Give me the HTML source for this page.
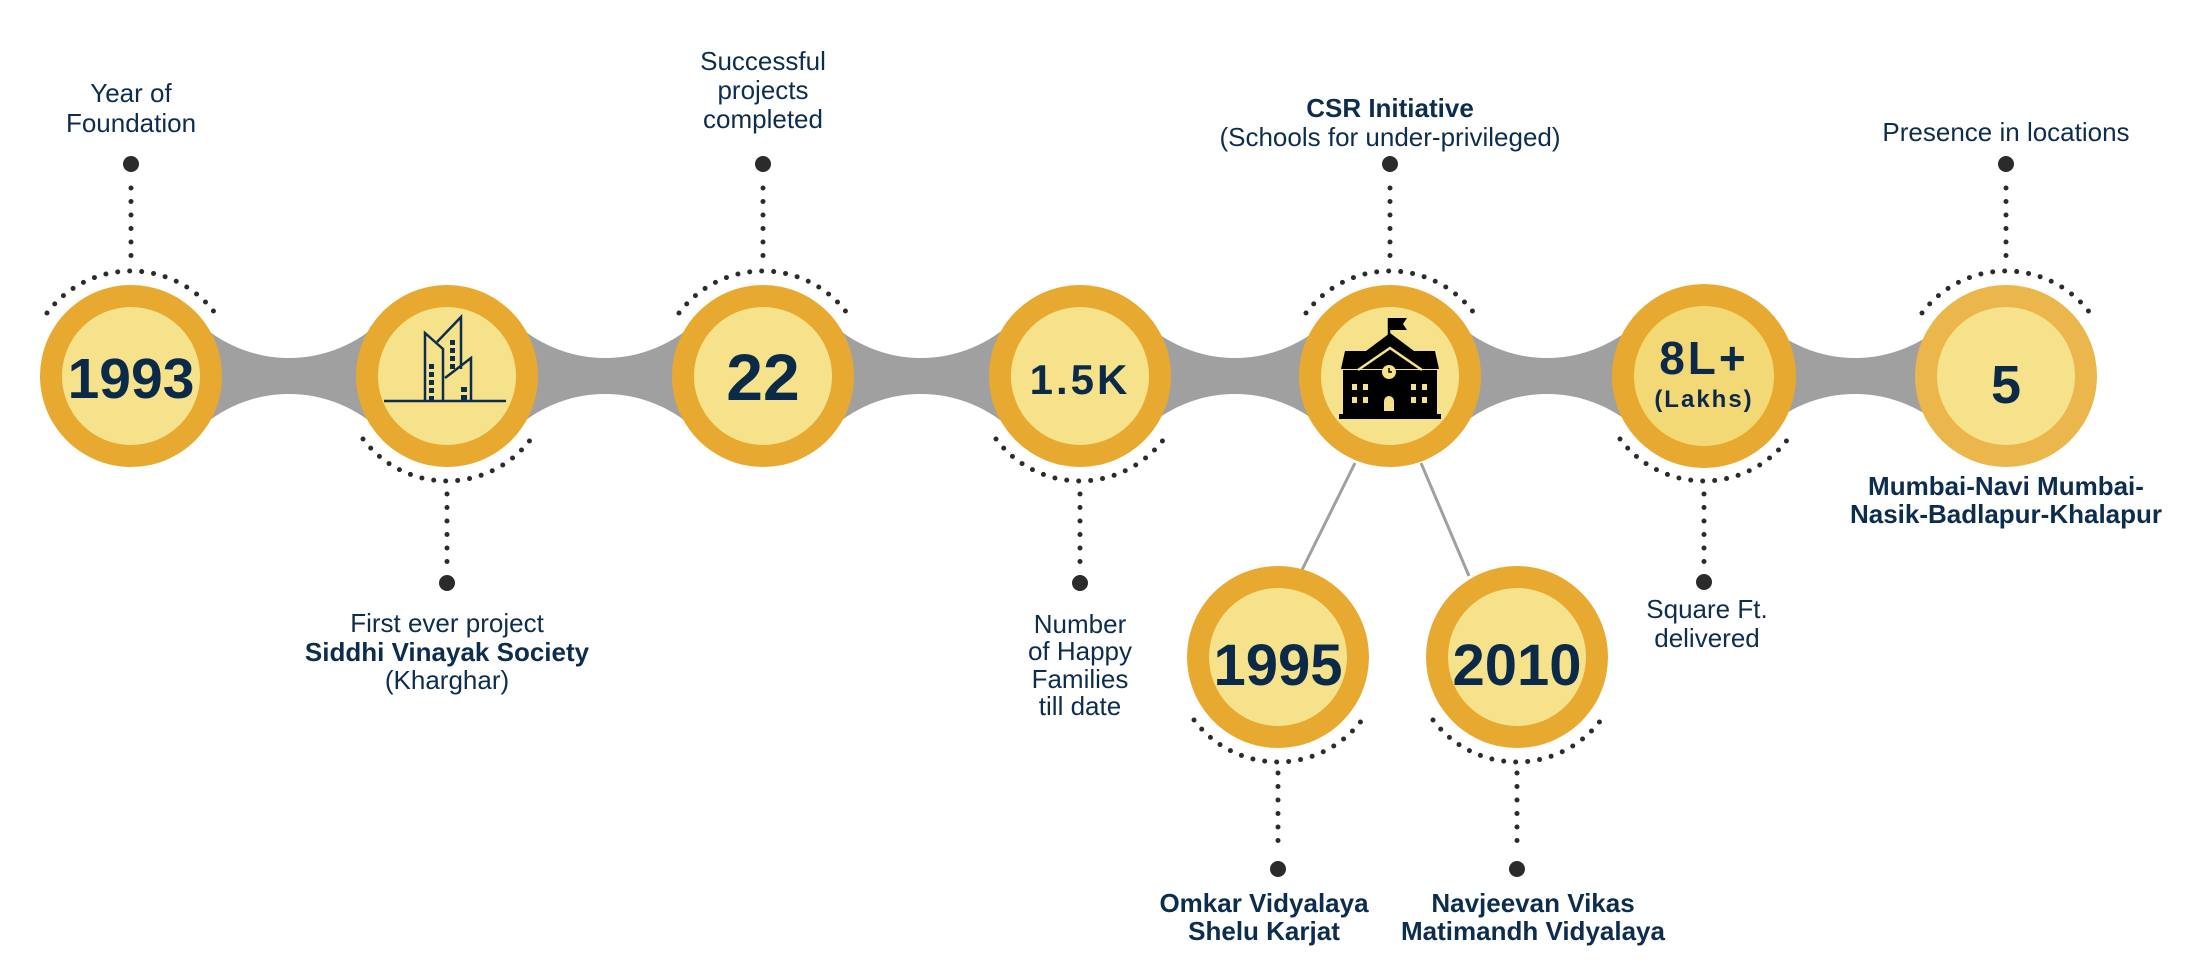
<!DOCTYPE html>
<html><head><meta charset="utf-8"><style>
html,body{margin:0;padding:0;background:#fff;}
svg{display:block;}
text{font-family:"Liberation Sans",sans-serif;fill:#0d2d4f;}
.l{font-size:26px;}
.b{font-size:26px;font-weight:bold;}
.n{font-weight:bold;fill:#0b2a4a;}
</style></head><body>
<svg width="2210" height="972" viewBox="0 0 2210 972" xmlns="http://www.w3.org/2000/svg">
<rect x="131" y="316" width="1875" height="120" fill="#a0a0a0"/>
<g fill="#fff">
<circle cx="289" cy="225" r="133"/><circle cx="289" cy="527" r="133"/>
<circle cx="605" cy="225" r="133"/><circle cx="605" cy="527" r="133"/>
<circle cx="921" cy="225" r="133"/><circle cx="921" cy="527" r="133"/>
<circle cx="1235" cy="225" r="133"/><circle cx="1235" cy="527" r="133"/>
<circle cx="1547" cy="225" r="133"/><circle cx="1547" cy="527" r="133"/>
<circle cx="1855" cy="225" r="133"/><circle cx="1855" cy="527" r="133"/>
</g>
<line x1="1355" y1="463" x2="1301" y2="572" stroke="#a0a0a0" stroke-width="3"/>
<line x1="1421" y1="463" x2="1469" y2="576" stroke="#a0a0a0" stroke-width="3"/>

<g fill="none" stroke="#2b2b2b" stroke-width="5" stroke-linecap="round" stroke-dasharray="0 12">
<path d="M47,313 A105,105 0 0 1 215,313"/>
<path d="M679,313 A105,105 0 0 1 847,313"/>
<path d="M1306,313 A105,105 0 0 1 1474,313"/>
<path d="M1922,313 A105,105 0 0 1 2090,313"/>
<path d="M363,439 A105,105 0 0 0 531,439"/>
<path d="M996,439 A105,105 0 0 0 1164,439"/>
<path d="M1620,439 A105,105 0 0 0 1788,439"/>
<path d="M1194,720 A105,105 0 0 0 1362,720"/>
<path d="M1433,720 A105,105 0 0 0 1601,720"/>
</g>
<g fill="none" stroke="#2b2b2b" stroke-width="5" stroke-linecap="round" stroke-dasharray="0 13.5">
<line x1="131" y1="188" x2="131" y2="258"/>
<line x1="763" y1="188" x2="763" y2="258"/>
<line x1="1390" y1="188" x2="1390" y2="258"/>
<line x1="2006" y1="188" x2="2006" y2="258"/>
<line x1="447" y1="494" x2="447" y2="562"/>
<line x1="1080" y1="494" x2="1080" y2="562"/>
<line x1="1704" y1="494" x2="1704" y2="562"/>
<line x1="1278" y1="773" x2="1278" y2="846"/>
<line x1="1517" y1="773" x2="1517" y2="846"/>
</g>
<g fill="#2b2b2b">
<circle cx="131" cy="164" r="8"/><circle cx="763" cy="164" r="8"/>
<circle cx="1390" cy="164" r="8"/><circle cx="2006" cy="164" r="8"/>
<circle cx="447" cy="583" r="8"/><circle cx="1080" cy="583" r="8"/>
<circle cx="1704" cy="582" r="8"/>
<circle cx="1278" cy="869" r="8"/><circle cx="1517" cy="869" r="8"/>
</g>

<g>
<circle cx="131" cy="376" r="91" fill="#e8a930"/><circle cx="131" cy="376" r="69" fill="#f6e28a"/>
<circle cx="447" cy="376" r="91" fill="#e8a930"/><circle cx="447" cy="376" r="69" fill="#f6e28a"/>
<circle cx="763" cy="376" r="91" fill="#e8a930"/><circle cx="763" cy="376" r="69" fill="#f6e28a"/>
<circle cx="1080" cy="376" r="91" fill="#e8a930"/><circle cx="1080" cy="376" r="69" fill="#f6e28a"/>
<circle cx="1390" cy="376" r="91" fill="#e8a930"/><circle cx="1390" cy="376" r="69" fill="#f6e28a"/>
<circle cx="1704" cy="376" r="92" fill="#e8a930"/><circle cx="1704" cy="376" r="70" fill="#f3d876"/>
<circle cx="2006" cy="376" r="91" fill="#ebb74c"/><circle cx="2006" cy="376" r="69" fill="#f6e28a"/>
<circle cx="1278" cy="657" r="91" fill="#e8a930"/><circle cx="1278" cy="657" r="69" fill="#f6e28a"/>
<circle cx="1517" cy="657" r="91" fill="#e8a930"/><circle cx="1517" cy="657" r="69" fill="#f6e28a"/>
</g>

<g fill="none" stroke="#0d2d4f" stroke-width="2.5">
<line x1="384" y1="401" x2="506" y2="401"/>
<path d="M425,401 V333 L443,349 V401"/>
<path d="M437,342 L461,317 V369"/>
<path d="M445,378 L471,358 V401"/>
</g>
<g fill="#0d2d4f">
<rect x="429" y="364" width="5" height="5"/><rect x="429" y="372" width="5" height="5"/><rect x="429" y="380" width="5" height="5"/><rect x="429" y="388" width="5" height="5"/><rect x="429" y="396" width="5" height="5"/>
<rect x="450" y="340" width="5" height="5"/><rect x="450" y="348" width="5" height="5"/><rect x="450" y="356" width="5" height="5"/><rect x="450" y="364" width="5" height="5"/>
<rect x="461" y="387" width="6" height="5"/><rect x="461" y="395" width="6" height="5"/>
</g>

<g fill="#000">
<line x1="1389" y1="339" x2="1389" y2="318" stroke="#000" stroke-width="2.5"/>
<path d="M1390,318 h17 l-4,6 l4,6 h-17 z"/>
<path d="M1345,351 L1366,351 L1390,333 L1414,351 L1435,351 L1439,369 L1341,369 Z"/>
<rect x="1343" y="370" width="94" height="46"/>
<rect x="1339" y="414" width="102" height="5"/>
</g>
<path d="M1358,370 L1390,348 L1422,370" fill="none" stroke="#f6e28a" stroke-width="2.5"/>
<g fill="#f6e28a">
<circle cx="1389" cy="372" r="7"/>
<rect x="1352" y="384" width="5" height="6"/><rect x="1363" y="384" width="5" height="6"/>
<rect x="1411" y="384" width="5" height="6"/><rect x="1422" y="384" width="5" height="6"/>
<rect x="1352" y="397" width="5" height="6"/><rect x="1363" y="397" width="5" height="6"/>
<rect x="1411" y="397" width="5" height="6"/><rect x="1422" y="397" width="5" height="6"/>
<path d="M1384,411 v-10 a5,5 0 0 1 10,0 v10 z"/>
</g>
<path d="M1389,368 v4 h3" stroke="#000" stroke-width="1.5" fill="none"/>

<text class="n" x="131" y="398" font-size="57" text-anchor="middle">1993</text>
<text class="n" x="763" y="400" font-size="66" text-anchor="middle">22</text>
<text class="n" x="1080" y="394" font-size="42" text-anchor="middle" letter-spacing="3">1.5K</text>
<text class="n" x="1704" y="374" font-size="46" text-anchor="middle" letter-spacing="3">8L+</text>
<text class="n" x="1704" y="407" font-size="24" text-anchor="middle" letter-spacing="2">(Lakhs)</text>
<text class="n" x="2006" y="403" font-size="54" text-anchor="middle">5</text>
<text class="n" x="1278" y="685" font-size="58" text-anchor="middle">1995</text>
<text class="n" x="1517" y="685" font-size="58" text-anchor="middle">2010</text>

<g text-anchor="middle">
<text class="l" x="131" y="102">Year of</text>
<text class="l" x="131" y="132">Foundation</text>
<text class="l" x="763" y="70">Successful</text>
<text class="l" x="763" y="99">projects</text>
<text class="l" x="763" y="128">completed</text>
<text class="b" x="1390" y="117">CSR Initiative</text>
<text class="l" x="1390" y="146">(Schools for under-privileged)</text>
<text class="l" x="2006" y="141">Presence in locations</text>
<text class="l" x="447" y="632">First ever project</text>
<text class="b" x="447" y="661">Siddhi Vinayak Society</text>
<text class="l" x="447" y="689">(Kharghar)</text>
<text class="l" x="1080" y="633">Number</text>
<text class="l" x="1080" y="660">of Happy</text>
<text class="l" x="1080" y="688">Families</text>
<text class="l" x="1080" y="715">till date</text>
<text class="l" x="1707" y="618">Square Ft.</text>
<text class="l" x="1707" y="647">delivered</text>
<text class="b" x="2006" y="495" font-size="28">Mumbai-Navi Mumbai-</text>
<text class="b" x="2006" y="523" font-size="28">Nasik-Badlapur-Khalapur</text>
<text class="b" x="1264" y="912" font-size="27">Omkar Vidyalaya</text>
<text class="b" x="1264" y="940" font-size="27">Shelu Karjat</text>
<text class="b" x="1533" y="912" font-size="27">Navjeevan Vikas</text>
<text class="b" x="1533" y="940" font-size="27">Matimandh Vidyalaya</text>
</g>
</svg>
</body></html>
